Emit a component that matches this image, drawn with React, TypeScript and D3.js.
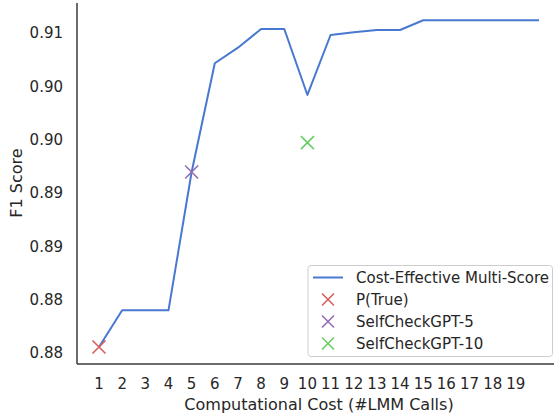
import React, { useEffect, useRef } from 'react';
import * as d3 from 'd3';

const calls = [1, 2, 3, 4, 5, 6, 7, 8, 9, 10, 11, 12, 13, 14, 15, 16, 17, 18, 19, 20];
const f1Scores = [
  0.88056, 0.8840, 0.8840, 0.8840, 0.89697, 0.90716, 0.90862, 0.91037, 0.91037, 0.90419,
  0.90981, 0.91006, 0.91028, 0.91028, 0.91119, 0.91119, 0.91119, 0.91119, 0.91119, 0.91119,
];

const baselines = [
  { name: 'P(True)', calls: 1, score: 0.88056, color: '#d65f5f' },
  { name: 'SelfCheckGPT-5', calls: 5, score: 0.89697, color: '#956cb4' },
  { name: 'SelfCheckGPT-10', calls: 10, score: 0.89972, color: '#6acc64' },
];

const xTicks = [1, 2, 3, 4, 5, 6, 7, 8, 9, 10, 11, 12, 13, 14, 15, 16, 17, 18, 19];
const yTicks = [0.88, 0.885, 0.89, 0.895, 0.9, 0.905, 0.91];
const yTickLabels = ['0.88', '0.88', '0.89', '0.89', '0.90', '0.90', '0.91'];

const lineColor = '#4878d0';
const font = 'DejaVu Sans, sans-serif';

const App: React.FC = () => {
  const svgRef = useRef<SVGSVGElement>(null);

  useEffect(() => {
    document.body.style.margin = '0';
    if (!svgRef.current) return;
    const svg = d3.select(svgRef.current);
    svg.selectAll('*').remove();

    const x = d3.scaleLinear().domain([0.05, 20.95]).range([77, 561]);
    const y = d3.scaleLinear().domain([0.87897, 0.91281]).range([364, 3]);

    // line
    const line = d3.line<number>()
      .x((_, i) => x(calls[i]))
      .y(d => y(d));
    svg.append('path')
      .datum(f1Scores)
      .attr('d', line)
      .attr('fill', 'none')
      .attr('stroke', lineColor)
      .attr('stroke-width', 2)
      .attr('stroke-linejoin', 'round');

    // x markers
    const cross = (g: d3.Selection<SVGGElement, unknown, null, undefined>, cx: number, cy: number, color: string, r = 6.5) => {
      g.append('path')
        .attr('d', `M${cx - r},${cy - r}L${cx + r},${cy + r}M${cx - r},${cy + r}L${cx + r},${cy - r}`)
        .attr('stroke', color)
        .attr('stroke-width', 1.6)
        .attr('fill', 'none');
    };
    const marks = svg.append('g');
    baselines.forEach(b => cross(marks, x(b.calls), y(b.score), b.color));

    // spines
    svg.append('line').attr('x1', 77).attr('x2', 77).attr('y1', 3).attr('y2', 364)
      .attr('stroke', '#3a3a3a').attr('stroke-width', 1.5);
    svg.append('line').attr('x1', 77).attr('x2', 561).attr('y1', 364).attr('y2', 364)
      .attr('stroke', '#3a3a3a').attr('stroke-width', 1.5);

    // x tick labels
    svg.append('g').selectAll('text')
      .data(xTicks)
      .enter().append('text')
      .attr('x', d => x(d))
      .attr('y', 389)
      .attr('text-anchor', 'middle')
      .style('font-family', font)
      .style('font-size', '15px')
      .style('fill', '#262626')
      .text(d => d);

    // y tick labels
    svg.append('g').selectAll('text')
      .data(yTicks)
      .enter().append('text')
      .attr('x', 63)
      .attr('y', d => y(d))
      .attr('dy', '0.36em')
      .attr('text-anchor', 'end')
      .style('font-family', font)
      .style('font-size', '15px')
      .style('fill', '#262626')
      .text((_, i) => yTickLabels[i]);

    // axis labels
    svg.append('text')
      .attr('x', 319)
      .attr('y', 410)
      .attr('text-anchor', 'middle')
      .style('font-family', font)
      .style('font-size', '16px')
      .style('fill', '#262626')
      .text('Computational Cost (#LMM Calls)');
    svg.append('text')
      .attr('transform', 'rotate(-90)')
      .attr('x', -183)
      .attr('y', 22)
      .attr('text-anchor', 'middle')
      .style('font-family', font)
      .style('font-size', '16px')
      .style('fill', '#262626')
      .text('F1 Score');

    // legend
    const lg = svg.append('g');
    lg.append('rect')
      .attr('x', 308).attr('y', 265.5)
      .attr('width', 244.5).attr('height', 91)
      .attr('rx', 3)
      .attr('fill', 'white').attr('fill-opacity', 0.8)
      .attr('stroke', '#cccccc').attr('stroke-width', 1);
    const rowY = (i: number) => 277.5 + i * 22;
    lg.append('line')
      .attr('x1', 313).attr('x2', 343).attr('y1', rowY(0)).attr('y2', rowY(0))
      .attr('stroke', lineColor).attr('stroke-width', 2);
    baselines.forEach((b, i) => cross(lg, 328, rowY(i + 1), b.color, 6));
    const names = ['Cost-Effective Multi-Score', ...baselines.map(b => b.name)];
    lg.selectAll('text.leg')
      .data(names)
      .enter().append('text')
      .attr('class', 'leg')
      .attr('x', 356)
      .attr('y', (_, i) => rowY(i))
      .attr('dy', '0.36em')
      .style('font-family', font)
      .style('font-size', '15px')
      .style('fill', '#262626')
      .text(d => d);
  }, []);

  return <svg ref={svgRef} width={554} height={417} style={{ display: 'block', background: 'white' }} />;
};

export default App;
